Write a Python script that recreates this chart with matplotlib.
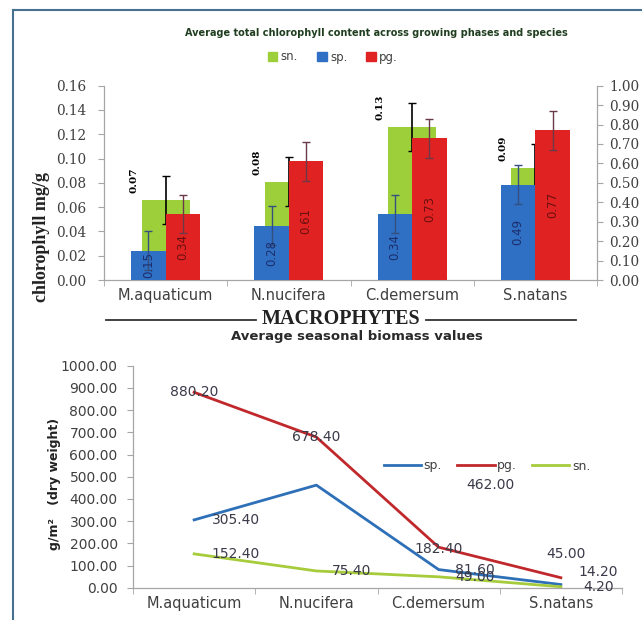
import numpy as np
import matplotlib.pyplot as plt
from matplotlib.lines import Line2D
from matplotlib.patches import Patch
from matplotlib.ticker import FormatStrFormatter

species = ['M.aquaticum', 'N.nucifera', 'C.demersum', 'S.natans']

# total chlorophyll (mg/g): sn. on the left axis, sp. and pg. on the right axis
chl_sn = [0.066, 0.081, 0.126, 0.092]
chl_sp = [0.15, 0.28, 0.34, 0.49]
chl_pg = [0.34, 0.61, 0.73, 0.77]
err_sn = [0.02, 0.02, 0.02, 0.02]
err_sp = [0.10, 0.10, 0.10, 0.10]
err_pg = [0.10, 0.10, 0.10, 0.10]

# average seasonal biomass, g/m2 dry weight
bio_sp = [305.40, 462.00, 81.60, 14.20]
bio_pg = [880.20, 678.40, 182.40, 45.00]
bio_sn = [152.40, 75.40, 49.00, 4.20]

GREEN = '#9dcf3a'
BLUE = '#2f6fc4'
RED = '#e02222'
TXT = '#404040'
AXC = '#a6a6a6'

W, H = 642, 620


def fx(px):
    return px / W


def fy(py):
    return 1 - py / H


fig = plt.figure(figsize=(W / 100, H / 100), dpi=100)
x = np.arange(len(species))

# ---- chlorophyll bars ----
ax1 = fig.add_axes([fx(104), fy(280), (597 - 104) / W, 194.3 / H])
ax2 = ax1.twinx()

ax1.bar(x, chl_sn, 0.39, color=GREEN, zorder=2)
ax1.errorbar(x, chl_sn, yerr=err_sn, fmt='none', ecolor='black',
             elinewidth=1.2, capsize=3, zorder=3)
ax2.bar(x - 0.14, chl_sp, 0.28, color=BLUE, zorder=2)
ax2.bar(x + 0.14, chl_pg, 0.28, color=RED, zorder=2)
ax2.errorbar(x - 0.14, chl_sp, yerr=err_sp, fmt='none', ecolor='#34507e',
             elinewidth=1.0, capsize=3, zorder=3)
ax2.errorbar(x + 0.14, chl_pg, yerr=err_pg, fmt='none', ecolor='#6a3a48',
             elinewidth=1.0, capsize=3, zorder=3)

for xi, v in zip(x, chl_sn):
    ax1.annotate(f'{v:.2f}', (xi - 0.26, v), xytext=(0, 5),
                 textcoords='offset points', rotation=90, ha='center',
                 va='bottom', family='DejaVu Serif', fontweight='bold',
                 fontsize=7.5, color='black', zorder=5)
for xi, v in zip(x, chl_sp):
    ax2.text(xi - 0.14, v / 2, f'{v:.2f}', rotation=90, ha='center',
             va='center', fontsize=8.5, color='#1c2e6b', zorder=5)
for xi, v in zip(x, chl_pg):
    ax2.text(xi + 0.14, v / 2, f'{v:.2f}', rotation=90, ha='center',
             va='center', fontsize=8.5, color='#6b1010', zorder=5)

ax1.set_xlim(-0.5, 3.5)
ax1.set_ylim(0, 0.16)
ax2.set_ylim(0, 1.0)
ax1.set_yticks(np.arange(0, 0.161, 0.02))
ax2.set_yticks(np.arange(0, 1.001, 0.1))
ax1.yaxis.set_major_formatter(FormatStrFormatter('%.2f'))
ax2.yaxis.set_major_formatter(FormatStrFormatter('%.2f'))
ax1.set_xticks(x)
ax1.set_xticklabels(species)
ax1.set_xticks([-0.5, 0.5, 1.5, 2.5, 3.5], minor=True)

for a in (ax1, ax2):
    for s in a.spines.values():
        s.set_color(AXC)
        s.set_linewidth(0.9)
    a.spines['top'].set_visible(False)
ax1.spines['right'].set_visible(False)
ax2.spines['left'].set_visible(False)
ax2.spines['bottom'].set_visible(False)

ax1.tick_params(axis='x', which='major', length=0, pad=6, labelsize=10.5,
                labelcolor=TXT)
ax1.tick_params(axis='x', which='minor', length=4, color=AXC)
ax1.tick_params(axis='y', length=4, color=AXC, pad=9, labelcolor=TXT)
ax2.tick_params(axis='y', length=4, color=AXC, pad=5, labelcolor=TXT)
for lab in ax1.get_yticklabels() + ax2.get_yticklabels():
    lab.set_family('DejaVu Serif')
    lab.set_fontsize(9.8)

fig.text(fx(376), fy(33),
         'Average total chlorophyll content across growing phases and species',
         ha='center', va='center', fontsize=7, fontweight='bold',
         color='#1f3d1f')
fig.legend(handles=[Patch(color=GREEN, label='sn.'),
                    Patch(color=BLUE, label='sp.'),
                    Patch(color=RED, label='pg.')],
           loc='center', bbox_to_anchor=(fx(333), fy(57)), ncol=3,
           frameon=False, fontsize=8.5, handlelength=0.8, handleheight=0.8,
           handletextpad=0.3, columnspacing=1.6, labelcolor=TXT)
fig.text(fx(42), fy(237), 'chlorophyll mg/g', rotation=90, ha='center',
         va='center', family='Liberation Serif', fontweight='bold',
         fontsize=13, color='#222222')

# ---- section heading ----
fig.text(fx(341), fy(319), 'MACROPHYTES', ha='center', va='center',
         family='Liberation Serif', fontweight='bold', fontsize=14.5,
         color='#222222')
fig.add_artist(Line2D([fx(106), fx(256)], [fy(320)] * 2, color='#333333',
                      lw=1.3))
fig.add_artist(Line2D([fx(426), fx(576)], [fy(320)] * 2, color='#333333',
                      lw=1.3))
fig.text(fx(357), fy(336), 'Average seasonal biomass values', ha='center',
         va='center', fontsize=9.5, fontweight='bold', color='#2a2a2a')

# ---- biomass lines ----
ax3 = fig.add_axes([fx(133), fy(587.7), (622 - 133) / W, 222 / H])
ax3.plot(x, bio_sp, color='#2e70b8', lw=2, label='sp.')
ax3.plot(x, bio_pg, color='#c0282c', lw=2, label='pg.')
ax3.plot(x, bio_sn, color='#a6cc3c', lw=2, label='sn.')

# label offsets in points (dx, dy)
off_sp = [(30, 0), (125, 0), (26, 0), (27, 9)]
off_pg = [(0, 0), (0, 0), (0, -1), (4, 17)]
off_sn = [(30, 0), (25, 0), (26, 0), (27, 0)]
for vals, offs in ((bio_pg, off_pg), (bio_sp, off_sp), (bio_sn, off_sn)):
    for xi, v, o in zip(x, vals, offs):
        ax3.annotate(f'{v:.2f}', (xi, v), xytext=o,
                     textcoords='offset points', ha='center', va='center',
                     fontsize=10, color='#3a3a4a')

ax3.set_xlim(-0.5, 3.5)
ax3.set_ylim(0, 1000)
ax3.set_yticks(np.arange(0, 1001, 100))
ax3.yaxis.set_major_formatter(FormatStrFormatter('%.2f'))
ax3.set_xticks(x)
ax3.set_xticklabels(species)
ax3.set_xticks([-0.5, 0.5, 1.5, 2.5, 3.5], minor=True)
for s in ('top', 'right'):
    ax3.spines[s].set_visible(False)
for s in ('left', 'bottom'):
    ax3.spines[s].set_color(AXC)
    ax3.spines[s].set_linewidth(0.9)
ax3.tick_params(axis='x', which='major', length=0, pad=6, labelsize=10.5,
                labelcolor=TXT)
ax3.tick_params(axis='x', which='minor', length=4, color=AXC)
ax3.tick_params(axis='y', length=4, color=AXC, pad=7, labelsize=10,
                labelcolor=TXT)
ax3.legend(loc='center', bbox_to_anchor=(fx(487), fy(466)),
           bbox_transform=fig.transFigure, ncol=3, frameon=False,
           fontsize=9, handlelength=3.0, handletextpad=0.2,
           columnspacing=1.2, labelcolor=TXT)
fig.text(fx(55), fy(484), 'g/m\u00b2   (dry weight)', rotation=90,
         ha='center', va='center', fontsize=9, fontweight='bold',
         color='#222222')

# outer frame
fig.add_artist(Line2D([fx(13), 1], [fy(10)] * 2, color='#46708f', lw=1.5))
fig.add_artist(Line2D([fx(13)] * 2, [0, fy(10)], color='#46708f', lw=1.5))

fig.savefig('out.png', dpi=100)
